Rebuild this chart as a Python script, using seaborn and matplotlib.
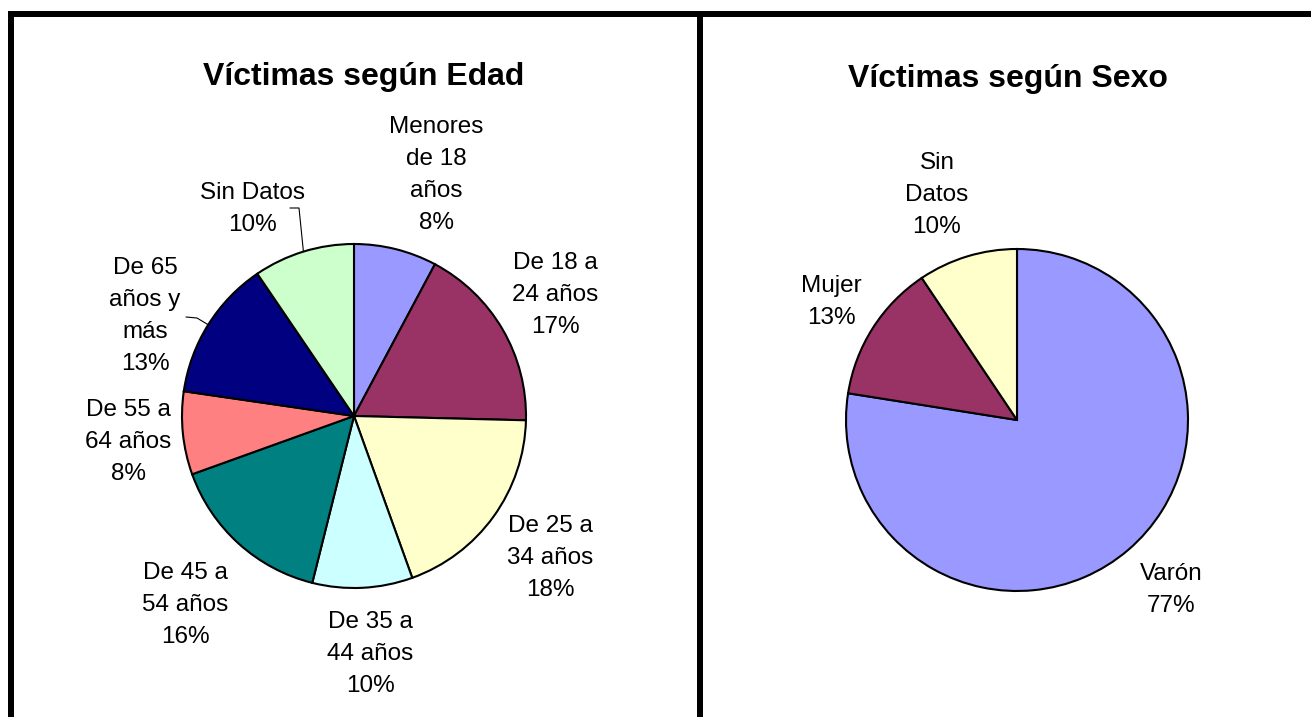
import matplotlib
matplotlib.use("Agg")
import numpy as np
import matplotlib.pyplot as plt
import seaborn as sns

edad_cats = ["Menores\nde 18\naños", "De 18 a\n24 años", "De 25 a\n34 años", "De 35 a\n44 años",
             "De 45 a\n54 años", "De 55 a\n64 años", "De 65\naños y\nmás", "Sin Datos"]
edad_vals = [7.8, 17.6, 19.1, 9.4, 15.6, 7.8, 13.2, 9.5]
edad_pct = ["8%", "17%", "18%", "10%", "16%", "8%", "13%", "10%"]
edad_colors = ["#9999FF", "#993366", "#FFFFCC", "#CCFFFF", "#008080", "#FF8080", "#000080", "#CCFFCC"]

# Víctimas según Sexo
sexo_cats = ["Varón", "Mujer", "Sin\nDatos"]
sexo_vals = [77.5, 13.1, 9.4]
sexo_pct = ["77%", "13%", "10%"]
sexo_colors = ["#9999FF", "#993366", "#FFFFCC"]

W, H = 1311, 717

sns.set_theme(style="white")
plt.rcParams["font.family"] = ["Liberation Sans", "DejaVu Sans"]
plt.rcParams["text.color"] = "black"

fig = plt.figure(figsize=(W / 100, H / 100), dpi=100)
ax = fig.add_axes([0, 0, 1, 1])


def draw_pie(vals, colors, cats, pcts, center, radius, label_xy):
    cx, cy = center[0], H - center[1]
    wedges, _ = ax.pie(vals, colors=colors, startangle=90, counterclock=False,
                       center=(cx, cy), radius=radius, frame=True,
                       wedgeprops=dict(edgecolor="black", linewidth=1.5))
    for cat, pct, (x, y) in zip(cats, pcts, label_xy):
        ax.text(x, H - y, cat + "\n" + pct, ha="center", va="center",
                fontsize=17.5, linespacing=1.6)
    return wedges, (cx, cy)


def leader(wedge, center, radius, elbow):
    mid = np.deg2rad((wedge.theta1 + wedge.theta2) / 2)
    ex = center[0] + radius * np.cos(mid)
    ey = center[1] + radius * np.sin(mid)
    xs = [p[0] for p in elbow] + [ex]
    ys = [H - p[1] for p in elbow] + [ey]
    ax.plot(xs, ys, color="black", lw=0.8)


edad_label_xy = [(436, 175), (555, 295), (550, 558), (370, 654),
                 (185, 605), (128, 442), (145, 316), (252, 209)]
w_edad, c_edad = draw_pie(edad_vals, edad_colors, edad_cats, edad_pct,
                          (354, 416), 172, edad_label_xy)
leader(w_edad[7], c_edad, 172, [(290, 208), (299, 208)])
leader(w_edad[6], c_edad, 172, [(186, 317), (197, 318)])

sexo_label_xy = [(1171, 590), (831, 302), (937, 195)]
draw_pie(sexo_vals, sexo_colors, sexo_cats, sexo_pct, (1017, 420), 171, sexo_label_xy)

ax.text(364, H - 77, "Víctimas según Edad", fontsize=23, fontweight="bold",
        ha="center", va="center")
ax.text(1008, H - 79, "Víctimas según Sexo", fontsize=23, fontweight="bold",
        ha="center", va="center")

# panel borders
bw = 6 * 72 / 100
ax.plot([8, W], [H - 14, H - 14], color="black", lw=bw, solid_capstyle="butt")
ax.plot([11, 11], [H - 11, 0], color="black", lw=bw, solid_capstyle="butt")
ax.plot([700, 700], [H - 11, 0], color="black", lw=bw, solid_capstyle="butt")

ax.set_aspect("auto")
ax.set_xlim(0, W)
ax.set_ylim(0, H)
ax.axis("off")

fig.savefig("out.png", dpi=100)
